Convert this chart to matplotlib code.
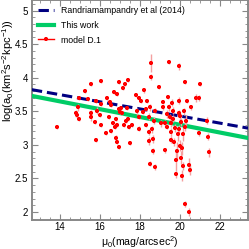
import numpy as np
import matplotlib
matplotlib.use('Agg')
import matplotlib.pyplot as plt
from matplotlib.ticker import MultipleLocator
from matplotlib.lines import Line2D

plt.rcParams['font.family'] = ['Liberation Sans', 'DejaVu Sans']

# surface brightness mu0 and log(a0) for model D.1
mu0 = [13.87, 14.80, 14.87, 14.90, 14.93, 14.97, 15.27, 15.42, 15.57, 15.53,
       15.57, 15.73, 15.80, 15.83, 15.80, 16.00, 16.03, 16.05, 16.03, 16.33,
       16.30, 16.43, 16.50, 16.53, 16.53, 16.65, 16.72, 16.73, 16.80, 16.80,
       16.87, 16.83, 16.93, 16.87, 16.97, 17.00, 16.95, 17.07, 17.10, 17.17,
       17.25, 17.20, 17.30, 17.33, 17.40, 17.40, 17.47, 17.50, 17.60, 17.80,
       17.83, 17.93, 17.97, 17.97, 18.03, 18.13, 18.20, 18.30, 18.30, 18.37,
       18.43, 18.47, 18.47, 18.50, 18.53, 18.53, 18.50, 18.60, 18.63, 18.67,
       18.70, 18.77, 18.77, 18.97, 19.03, 19.13, 19.17, 19.23, 19.23, 19.33,
       19.33, 19.40, 19.47, 19.47, 19.50, 19.53, 19.53, 19.57, 19.60, 19.63,
       19.67, 19.70, 19.73, 19.80, 19.80, 19.83, 19.90, 19.93, 19.93, 19.97,
       20.00, 19.97, 20.00, 20.03, 20.07, 20.10, 20.10, 20.13, 20.17, 20.20,
       20.23, 20.23, 20.27, 20.30, 20.33, 20.43, 20.43, 20.50, 20.57, 20.97,
       21.00, 20.97, 21.33, 21.40, 21.47, 20.78]
loga0 = [3.27, 3.47, 3.44, 3.56, 3.70, 3.39, 3.80, 3.69, 3.91, 3.47,
         3.41, 3.34, 3.66, 3.51, 3.07, 3.44, 3.29, 3.61, 3.95, 3.70,
         3.18, 3.41, 3.64, 3.59, 3.20, 3.32, 3.79, 3.27, 3.11, 3.39,
         3.30, 3.04, 3.94, 3.76, 3.54, 3.49, 2.97, 3.55, 3.47, 3.84,
         3.91, 3.29, 3.36, 3.55, 3.97, 3.39, 3.27, 3.03, 3.30, 3.75,
         3.50, 3.70, 3.41, 3.24, 3.66, 3.49, 3.81, 3.54, 3.30, 3.65,
         3.42, 3.19, 3.06, 2.72, 4.22, 4.01, 3.56, 3.23, 3.09, 2.91,
         3.36, 3.51, 2.67, 3.86, 3.32, 3.56, 3.64, 3.32, 2.92, 3.27,
         3.46, 3.71, 3.56, 4.23, 3.41, 3.32, 3.19, 3.08, 3.63, 3.51,
         3.39, 3.05, 3.25, 2.56, 2.77, 2.91, 3.16, 3.23, 4.17, 3.47,
         3.43, 3.66, 2.99, 2.81, 3.34, 2.95, 2.54, 2.69, 3.16, 3.50,
         3.27, 3.94, 2.12, 3.36, 3.66, 2.00, 2.70, 2.63, 3.56, 3.70,
         3.91, 3.17, 3.36, 3.12, 2.89, 3.70]
loga0_err = [0.03, 0.05, 0.04, 0.05, 0.03, 0.03, 0.03, 0.03, 0.03, 0.05,
             0.05, 0.03, 0.03, 0.05, 0.03, 0.03, 0.03, 0.03, 0.03, 0.03,
             0.03, 0.03, 0.03, 0.03, 0.03, 0.03, 0.03, 0.03, 0.03, 0.03,
             0.03, 0.03, 0.03, 0.03, 0.03, 0.03, 0.03, 0.03, 0.03, 0.03,
             0.03, 0.03, 0.03, 0.03, 0.03, 0.03, 0.03, 0.03, 0.03, 0.03,
             0.05, 0.03, 0.03, 0.04, 0.03, 0.03, 0.03, 0.03, 0.03, 0.03,
             0.05, 0.05, 0.06, 0.04, 0.14, 0.04, 0.05, 0.05, 0.06, 0.04,
             0.05, 0.04, 0.05, 0.03, 0.05, 0.04, 0.03, 0.05, 0.04, 0.04,
             0.06, 0.03, 0.05, 0.03, 0.05, 0.06, 0.06, 0.05, 0.05, 0.05,
             0.05, 0.06, 0.06, 0.05, 0.16, 0.14, 0.10, 0.07, 0.05, 0.05,
             0.06, 0.05, 0.08, 0.10, 0.06, 0.10, 0.08, 0.06, 0.10, 0.05,
             0.06, 0.03, 0.04, 0.08, 0.03, 0.06, 0.10, 0.08, 0.04, 0.04,
             0.03, 0.04, 0.05, 0.05, 0.07, 0.06]

# linear relations log(a0) = a + b * mu0
line_x = [12.6, 23.4]
randri_a, randri_b = 4.49, -0.053
this_a, this_b = 4.46, -0.058

fig = plt.figure(figsize=(2.49, 2.49), dpi=100)
ax = fig.add_axes([0.128, 0.116, 0.868, 0.882])

lx = np.array(line_x)
h1, = ax.plot(lx, randri_a + randri_b * lx, color='#000080', lw=2.2,
              dashes=(3.4, 1.6), zorder=4)
h2, = ax.plot(lx, this_a + this_b * lx, color='#00cc66', lw=3.0, zorder=3)
ax.errorbar(mu0, loga0, yerr=loga0_err, fmt='+', color='red', ms=3.5,
            mew=1.7, ecolor='#f4a0a0', elinewidth=1.0, capsize=0, zorder=5)
h3 = Line2D([], [], color='red', lw=1.0, marker='+', ms=3.5, mew=1.7)

ax.set_xlim(12.6, 23.4)
ax.set_ylim(1.88, 5.15)
ax.xaxis.set_major_locator(MultipleLocator(2))
ax.xaxis.set_minor_locator(MultipleLocator(0.5))
ax.yaxis.set_major_locator(MultipleLocator(0.5))
ax.yaxis.set_minor_locator(MultipleLocator(0.1))
ax.yaxis.set_major_formatter(plt.FuncFormatter(lambda v, p: '%g' % v))
ax.tick_params(which='both', direction='in', top=True, right=True,
               color='#888888', labelsize=7, pad=3)
ax.tick_params(axis='x', pad=1.5)
ax.tick_params(which='major', length=4, width=0.8)
ax.tick_params(which='minor', length=2, width=0.6)
for s in ax.spines.values():
    s.set_color('#888888')
    s.set_linewidth(1.4)

ax.set_xlabel(r'$\mathregular{\mu_0(mag/arcsec^2)}$', fontsize=7.6)
ax.set_ylabel(r'$\mathregular{log(a_0(km^2s^{-2}kpc^{-1}))}$', fontsize=8)
ax.xaxis.set_label_coords(0.5, -0.062)
ax.yaxis.set_label_coords(-0.075, 0.68)

ax.legend([h1, h2, h3],
          ['Randriamampandry et al (2014)', 'This work', 'model D.1'],
          loc='upper left', frameon=False, fontsize=6.3, handlelength=1.9,
          borderaxespad=0.25, labelspacing=0.65, handletextpad=0.8)

fig.savefig('out.png', dpi=100)
